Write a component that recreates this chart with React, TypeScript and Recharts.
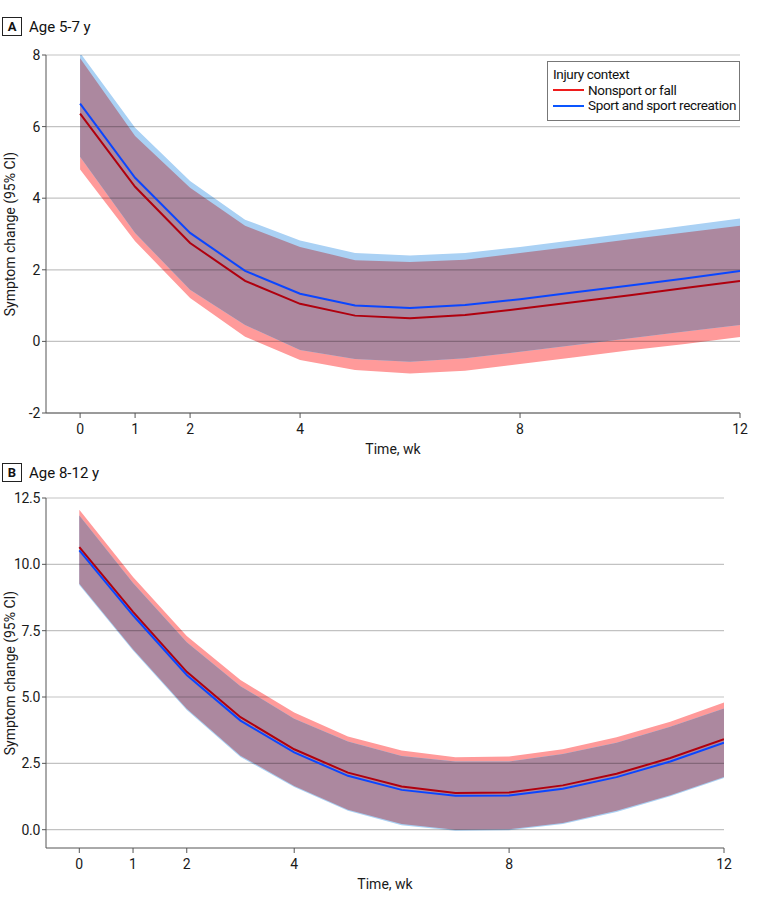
import { ComposedChart, Area, Line, XAxis, YAxis, ReferenceLine } from "recharts"

const weeks = [0, 1, 2, 3, 4, 5, 6, 7, 8, 9, 10, 11, 12]
const xTicks = [0, 1, 2, 4, 8, 12]

// Panel A: age 5-7 y
const aRedMean = [6.36, 4.32, 2.75, 1.69, 1.05, 0.72, 0.65, 0.74, 0.91, 1.1, 1.29, 1.49, 1.69]
const aRedLow = [4.8, 2.8, 1.21, 0.13, -0.52, -0.8, -0.9, -0.82, -0.63, -0.44, -0.25, -0.07, 0.12]
const aRedHigh = [7.91, 5.74, 4.29, 3.23, 2.64, 2.27, 2.22, 2.28, 2.47, 2.66, 2.85, 3.04, 3.23]
const aBlueMean = [6.64, 4.57, 3.03, 1.97, 1.33, 1.0, 0.93, 1.02, 1.18, 1.37, 1.56, 1.76, 1.97]
const aBlueLow = [5.16, 3.03, 1.44, 0.46, -0.24, -0.49, -0.57, -0.47, -0.29, -0.1, 0.09, 0.28, 0.46]
const aBlueHigh = [8.06, 5.97, 4.48, 3.4, 2.82, 2.47, 2.4, 2.47, 2.64, 2.83, 3.03, 3.23, 3.43]
const aTicks = [-2, 0, 2, 4, 6, 8]

// Panel B: age 8-12 y
const bRedMean = [10.65, 8.21, 5.95, 4.24, 3.03, 2.15, 1.63, 1.38, 1.4, 1.67, 2.11, 2.7, 3.41]
const bRedLow = [9.27, 6.8, 4.56, 2.79, 1.65, 0.75, 0.21, 0.0, 0.02, 0.25, 0.71, 1.3, 1.99]
const bRedHigh = [12.06, 9.52, 7.3, 5.64, 4.42, 3.51, 2.98, 2.73, 2.76, 3.03, 3.48, 4.07, 4.79]
const bBlueMean = [10.53, 8.08, 5.83, 4.11, 2.91, 2.03, 1.5, 1.28, 1.29, 1.54, 1.98, 2.57, 3.28]
const bBlueLow = [9.22, 6.75, 4.51, 2.74, 1.61, 0.71, 0.17, -0.04, -0.02, 0.21, 0.67, 1.26, 1.95]
const bBlueHigh = [11.84, 9.3, 7.06, 5.41, 4.18, 3.32, 2.78, 2.57, 2.57, 2.85, 3.28, 3.88, 4.57]
const bTicks = [0, 2.5, 5, 7.5, 10, 12.5]

const FONT = "Roboto, 'Liberation Sans', sans-serif"
const RED_BAND = "#ff9a9a"
const BLUE_BAND = "#aad1f4"
const BOTH_BAND = "#ac889f"
const RED_LINE = "#b0000e"
const BLUE_LINE = "#0a46ff"

type Row = {
  week: number
  red: number
  blue: number
  redBand: [number, number]
  blueBand: [number, number]
  both: [number, number]
}

function buildRows(
  redMean: number[],
  redLow: number[],
  redHigh: number[],
  blueMean: number[],
  blueLow: number[],
  blueHigh: number[]
): Row[] {
  return weeks.map((w, i) => ({
    week: w,
    red: redMean[i],
    blue: blueMean[i],
    redBand: [redLow[i], redHigh[i]],
    blueBand: [blueLow[i], blueHigh[i]],
    // where the two intervals overlap
    both: [Math.max(redLow[i], blueLow[i]), Math.min(redHigh[i], blueHigh[i])],
  }))
}

const rowsA = buildRows(aRedMean, aRedLow, aRedHigh, aBlueMean, aBlueLow, aBlueHigh)
const rowsB = buildRows(bRedMean, bRedLow, bRedHigh, bBlueMean, bBlueLow, bBlueHigh)

type PanelProps = {
  rows: Row[]
  top: number
  height: number
  margin: { top: number; right: number; bottom: number; left: number }
  yDomain: [number, number]
  yTicks: number[]
  fmt: (v: number) => string
}

function Panel({ rows, top, height, margin, yDomain, yTicks, fmt }: PanelProps) {
  const tickStyle = { fill: "#1a1a1a", fontSize: 14, fontFamily: FONT }
  return (
    <div style={{ position: "absolute", left: 0, top }}>
      <ComposedChart width={780} height={height} data={rows} margin={margin}>
        <XAxis
          dataKey="week"
          type="number"
          domain={[-0.62, 12]}
          ticks={xTicks}
          interval={0}
          tick={tickStyle}
          tickSize={5}
          tickMargin={6}
          height={45}
          stroke="#555"
          allowDataOverflow
          label={{ value: "Time, wk", position: "insideBottom", offset: 4, style: { fill: "#1a1a1a", fontSize: 14, fontFamily: FONT } }}
        />
        <YAxis
          type="number"
          domain={yDomain}
          ticks={yTicks}
          interval={0}
          tick={{ ...tickStyle, letterSpacing: -0.3 }}
          tickFormatter={fmt}
          tickSize={4}
          tickMargin={2}
          width={46}
          stroke="#555"
          allowDataOverflow
        />
        <Area dataKey="redBand" stroke="none" fill={RED_BAND} fillOpacity={1} isAnimationActive={false} />
        <Area dataKey="blueBand" stroke="none" fill={BLUE_BAND} fillOpacity={1} isAnimationActive={false} />
        <Area dataKey="both" stroke="none" fill={BOTH_BAND} fillOpacity={1} isAnimationActive={false} />
        {yTicks.map((t) => (
          <ReferenceLine key={t} y={t} stroke="rgba(0,0,0,0.24)" strokeWidth={1.2} />
        ))}
        <Line dataKey="red" stroke={RED_LINE} strokeWidth={2} dot={false} isAnimationActive={false} />
        <Line dataKey="blue" stroke={BLUE_LINE} strokeWidth={2} dot={false} isAnimationActive={false} />
      </ComposedChart>
    </div>
  )
}

function PanelTitle({ letter, text, top }: { letter: string; text: string; top: number }) {
  return (
    <div style={{ position: "absolute", left: 2, top, display: "flex", alignItems: "center", fontFamily: FONT, fontSize: 15, color: "#111" }}>
      <span
        style={{
          display: "inline-block",
          width: 18,
          height: 17,
          lineHeight: "17px",
          border: "1px solid #222",
          textAlign: "center",
          fontWeight: 700,
          fontSize: 13,
        }}
      >
        {letter}
      </span>
      <span style={{ marginLeft: 7 }}>{text}</span>
    </div>
  )
}

function YLabel({ cy }: { cy: number }) {
  return (
    <div
      style={{
        position: "absolute",
        left: 10,
        top: cy,
        transform: "translate(-50%, -50%) rotate(-90deg)",
        whiteSpace: "nowrap",
        fontFamily: FONT,
        fontSize: 14,
        color: "#1a1a1a",
      }}
    >
      Symptom change (95% CI)
    </div>
  )
}

export default function App() {
  return (
    <div style={{ position: "absolute", left: 0, top: 0, width: 780, height: 905, background: "#fff" }}>
      <PanelTitle letter="A" text="Age 5-7 y" top={17} />
      <Panel
        rows={rowsA}
        top={0}
        height={470}
        margin={{ top: 55, right: 40, bottom: 12, left: 0 }}
        yDomain={[-2, 8]}
        yTicks={aTicks}
        fmt={(v) => String(v)}
      />
      <YLabel cy={234} />
      <div
        style={{
          position: "absolute",
          left: 547,
          top: 61,
          width: 193,
          height: 60,
          border: "1px solid #777",
          background: "#fff",
          fontFamily: FONT,
          fontSize: 13.5,
          letterSpacing: -0.35,
          whiteSpace: "nowrap",
          color: "#111",
          boxSizing: "border-box",
          padding: "5px 0 0 5px",
          lineHeight: "15.5px",
        }}
      >
        <div>Injury context</div>
        <div style={{ display: "flex", alignItems: "center" }}>
          <span style={{ display: "inline-block", width: 31, height: 2, background: "#ee1c1c", marginRight: 4 }} />
          Nonsport or fall
        </div>
        <div style={{ display: "flex", alignItems: "center" }}>
          <span style={{ display: "inline-block", width: 31, height: 2, background: "#0a55ff", marginRight: 4 }} />
          Sport and sport recreation
        </div>
      </div>
      <PanelTitle letter="B" text="Age 8-12 y" top={463} />
      <Panel
        rows={rowsB}
        top={460}
        height={445}
        margin={{ top: 38, right: 56, bottom: 12, left: 0 }}
        yDomain={[-0.69, 12.5]}
        yTicks={bTicks}
        fmt={(v) => v.toFixed(1)}
      />
      <YLabel cy={673} />
    </div>
  )
}
